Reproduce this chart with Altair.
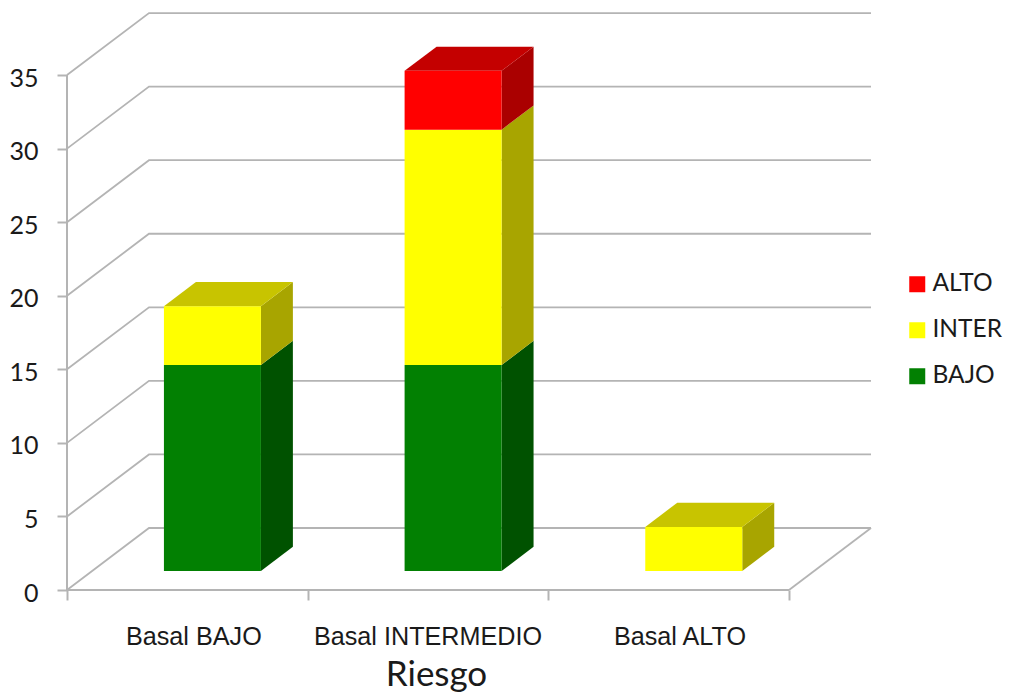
import altair as alt
import pandas as pd

# Stacked counts per baseline risk group
categories = ["Basal BAJO", "Basal INTERMEDIO", "Basal ALTO"]
series_names = ["BAJO", "INTER", "ALTO"]
bajo = [14, 14, 0]
inter = [4, 16, 3]
alto = [0, 4, 0]
series_values = [bajo, inter, alto]
value_ticks = [0, 5, 10, 15, 20, 25, 30, 35]
category_ticks = [0, 1, 2, 3]
label_positions = [0.527, 1.5, 2.547]

# Colours of the three visible faces of each box
front_colors = {"BAJO": "#028002", "INTER": "#ffff00", "ALTO": "#ff0000"}
side_colors = {"BAJO": "#005200", "INTER": "#a8a500", "ALTO": "#aa0000"}
top_colors = {"BAJO": "#006400", "INTER": "#c8c400", "ALTO": "#c40000"}
LINE = "#b4b4b4"
TEXT = "#1a1a1a"

# Oblique projection: full depth of the floor, in axis units
DEPTH_X = 0.3407
DEPTH_Y = 4.215
# Boxes occupy the middle of the floor depth and of each category slot
NEAR = 0.306
FAR = 0.696
BAR_WIDTH = 0.403
X_MAX = 3 + DEPTH_X
Y_MAX = 39.22

x_scale = alt.Scale(domain=[0, X_MAX], nice=False, zero=False)
y_scale = alt.Scale(domain=[0, Y_MAX], nice=False, zero=False)

x_axis = alt.Axis(
    values=category_ticks, labels=False, domain=False, grid=False,
    tickSize=10, tickWidth=2, tickColor=LINE,
    title="Riesgo", titleX=369, titleY=95, titleBaseline="alphabetic",
    titleFont="Lato", titleFontSize=35, titleFontWeight="normal",
    titleColor=TEXT,
)
y_axis = alt.Axis(
    values=value_ticks, domain=False, grid=False, format="d",
    tickSize=10, tickWidth=2, tickColor=LINE, title=None,
    labelFont="Lato", labelFontSize=25, labelColor=TEXT, labelPadding=19,
    labelOffset=3,
)


def X(field="x"):
    return alt.X(f"{field}:Q", scale=x_scale, axis=x_axis)


def Y(field="y"):
    return alt.Y(f"{field}:Q", scale=y_scale, axis=y_axis)


# Box faces, stacked per category
fronts, sides, tops = [], [], []
for i in range(len(categories)):
    base = 0
    top_series = None
    for name, vals in zip(series_names, series_values):
        v = vals[i]
        if v == 0:
            continue
        y0, y1 = base, base + v
        left = i + 0.5 - BAR_WIDTH / 2
        right = i + 0.5 + BAR_WIDTH / 2
        fronts.append({
            "x": left + NEAR * DEPTH_X, "x2": right + NEAR * DEPTH_X,
            "y": y0 + NEAR * DEPTH_Y, "y2": y1 + NEAR * DEPTH_Y,
            "serie": name,
        })
        for d in (NEAR, FAR):
            sides.append({
                "x": right + d * DEPTH_X,
                "y": y0 + d * DEPTH_Y, "y2": y1 + d * DEPTH_Y,
                "key": f"{i}-{name}", "shade": side_colors[name],
            })
        base = y1
        top_series = name
    for d in (NEAR, FAR):
        tops.append({
            "x": i + 0.5 - BAR_WIDTH / 2 + d * DEPTH_X,
            "x2": i + 0.5 + BAR_WIDTH / 2 + d * DEPTH_X,
            "y": base + d * DEPTH_Y,
            "key": str(i), "shade": top_colors[top_series],
        })

# Gridlines folded over the side wall and the back wall
grid = []
for v in value_ticks:
    grid.append({"x": 0, "y": v, "line": v, "step": 0})
    grid.append({"x": DEPTH_X, "y": v + DEPTH_Y, "line": v, "step": 1})
    grid.append({"x": X_MAX, "y": v + DEPTH_Y, "line": v, "step": 2})
# Right edge of the floor
grid.append({"x": X_MAX, "y": DEPTH_Y, "line": -1, "step": 0})
grid.append({"x": 3, "y": 0, "line": -1, "step": 1})

grid_layer = alt.Chart(pd.DataFrame(grid)).mark_line(
    color=LINE, strokeWidth=1.8
).encode(x=X(), y=Y(), detail="line:N", order="step:Q")

# Front edges of the floor and of the value wall
axis_x = alt.Chart(pd.DataFrame({"x": [0], "x2": [3], "y": [0]})).mark_rule(
    color=LINE, strokeWidth=2
).encode(x=X(), x2="x2:Q", y=Y())
axis_y = alt.Chart(pd.DataFrame({"x": [0], "y": [0], "y2": [35]})).mark_rule(
    color=LINE, strokeWidth=2
).encode(x=X(), y=Y(), y2="y2:Q")

side_layer = alt.Chart(pd.DataFrame(sides)).mark_area().encode(
    x=X(),
    y=Y(),
    y2="y2:Q",
    detail="key:N",
    color=alt.Color("shade:N", scale=None),
)

top_layer = alt.Chart(pd.DataFrame(tops)).mark_area(orient="horizontal").encode(
    y=Y(),
    x=X(),
    x2="x2:Q",
    detail="key:N",
    color=alt.Color("shade:N", scale=None),
)

legend_order = ["ALTO", "INTER", "BAJO"]
front_layer = alt.Chart(pd.DataFrame(fronts)).mark_rect().encode(
    x=X(),
    x2="x2:Q",
    y=Y(),
    y2="y2:Q",
    color=alt.Color(
        "serie:N",
        scale=alt.Scale(domain=legend_order,
                        range=[front_colors[s] for s in legend_order]),
        legend=alt.Legend(
            title=None, orient="none", legendX=838, legendY=259,
            symbolType="square", symbolSize=256, symbolStrokeWidth=0,
            symbolOpacity=1, labelFont="Lato", labelFontSize=24.5,
            labelColor=TEXT, labelOffset=3, rowPadding=21,
        ),
    ),
)

label_layer = alt.Chart(pd.DataFrame({
    "x": label_positions, "label": categories,
})).mark_text(
    font="Liberation Sans", fontSize=25.2, color=TEXT, baseline="middle"
).encode(x=X(), y=alt.value(624), text="label:N")

chart = alt.layer(
    grid_layer, axis_x, axis_y, side_layer, top_layer, front_layer, label_layer
).resolve_scale(color="independent").properties(
    width=804,
    height=577,
    padding={"left": 67, "top": 13, "right": 139, "bottom": 106},
    autosize=alt.AutoSizeParams(type="none"),
    background="white",
).configure_view(stroke=None)

chart.save("out.html", embed_options={"renderer": "svg", "actions": False})
